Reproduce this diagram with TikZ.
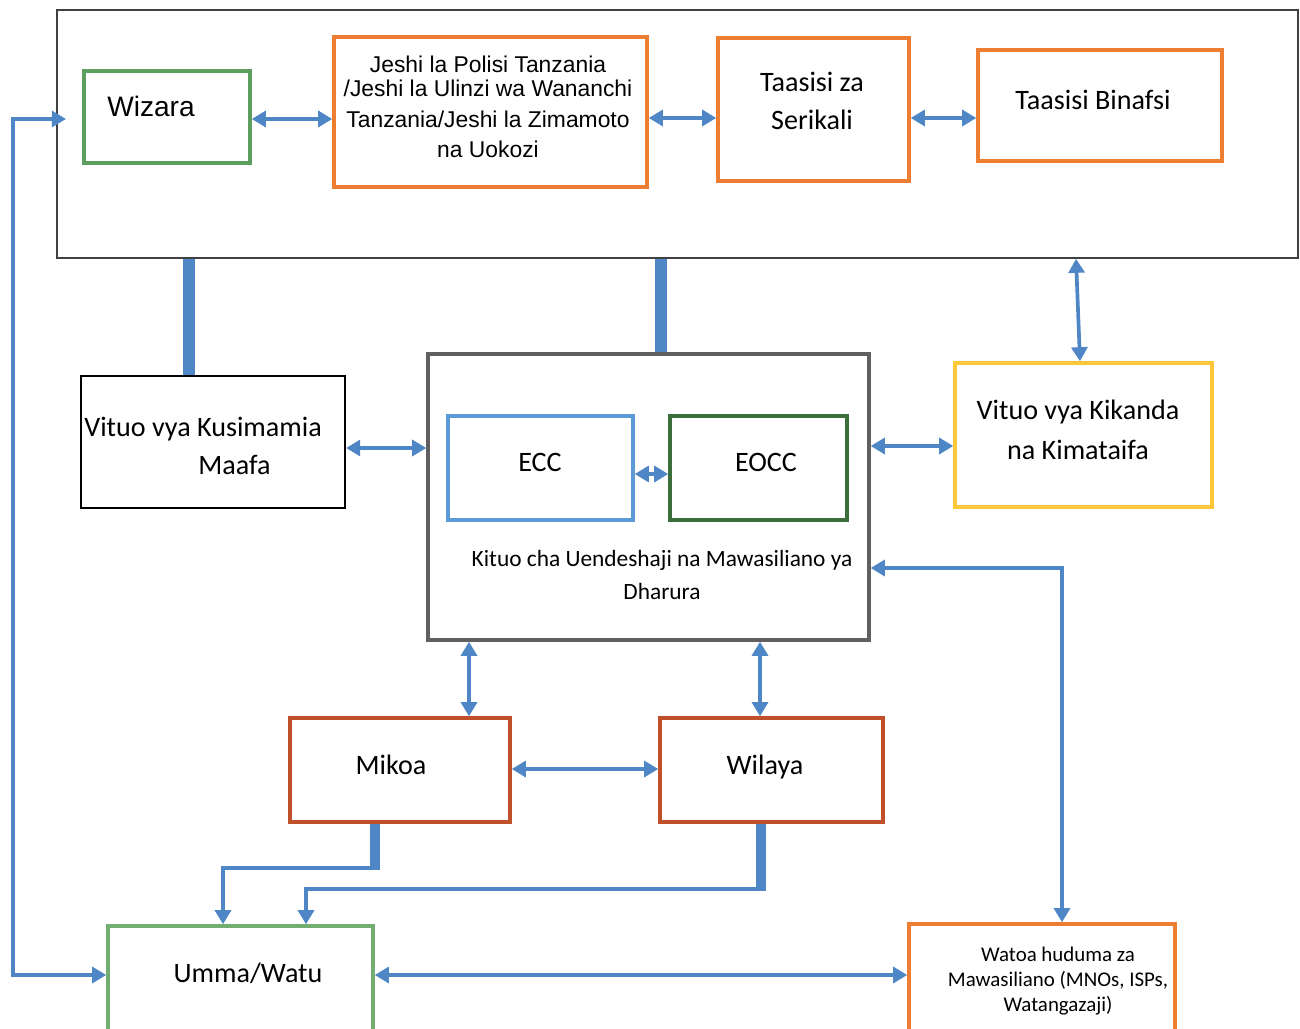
\documentclass[tikz,border=0pt]{standalone}
\usepackage{fontspec}
\setmainfont{Carlito}
\newfontfamily\arialfont{Liberation Sans}
\usepackage{xcolor}
\usetikzlibrary{calc,
	positioning,
	arrows.meta}
\definecolor{linkblue}{HTML}{4F86C6}
\definecolor{framegray}{HTML}{404040}
\definecolor{wizgreen}{HTML}{5E9E5E}
\definecolor{ummagreen}{HTML}{72AE72}
\definecolor{jorange}{HTML}{ED7D31}
\definecolor{eoccgreen}{HTML}{3B6E3B}
\definecolor{eccblue}{HTML}{5B9BD5}
\definecolor{kyellow}{HTML}{FFC63A}
\definecolor{mred}{HTML}{C0502A}
\definecolor{kgray}{HTML}{606060}

\begin{document}
\begin{tikzpicture}[x=0.02cm, y=-0.02cm,
	box/.style={draw, rectangle, line width=2pt, inner sep=0pt},
	link/.style={draw=linkblue, line width=2.1pt,
		{Triangle[length=8pt,width=9pt]}-{Triangle[length=8pt,width=9pt]}},
	onehead/.style={draw=linkblue, line width=2.1pt, -{Triangle[length=8pt,width=9pt]}},
	bar/.style={draw=linkblue, line width=6.5pt},
	lbl/.style={font=\fontsize{16}{22}\selectfont, align=center, inner sep=0pt}]
	\useasboundingbox (0,0) rectangle (1300,1028);
	\fill[white] (0,0) rectangle (1300,1028);
	% top group
	\node[box, draw=framegray, line width=0.9pt, minimum width=24.82cm, minimum height=4.96cm] (top) at (677.5,134) {};
	\node[box, draw=wizgreen, minimum width=3.32cm, minimum height=1.84cm] (wizara) at (167,117) {};
	\node[lbl, font=\arialfont\fontsize{16}{19}\selectfont] (wizaratxt) at (151,106) {Wizara};
	\node[box, draw=jorange, minimum width=6.26cm, minimum height=3.0cm] (jeshi) at (490.5,112) {};
	\node[lbl, font=\arialfont\fontsize{13}{17}\selectfont] (jeshitxt) at (488,107)
		{Jeshi la Polisi Tanzania\\[-3.5pt] /Jeshi la Ulinzi wa Wananchi\\[1pt] Tanzania/Jeshi la Zimamoto\\ na Uokozi};
	\node[box, draw=jorange, minimum width=3.82cm, minimum height=2.86cm] (serikali) at (813.5,109.5) {};
	\node[lbl] (serikalitxt) at (812,101) {Taasisi za\\ Serikali};
	\node[box, draw=jorange, minimum width=4.88cm, minimum height=2.22cm] (binafsi) at (1100,105.5) {};
	\node[lbl] (binafsitxt) at (1093,100) {Taasisi Binafsi};
	% middle row
	\node[box, draw=black, line width=1.3pt, minimum width=5.28cm, minimum height=2.64cm] (kusimamia) at (213,442) {};
	\node[lbl, align=left, anchor=west] (kusimamiatxt) at (84,446) {Vituo vya Kusimamia\\ \hspace*{2.28cm}Maafa};
	\node[box, draw=kgray, minimum width=8.82cm, minimum height=5.72cm] (kituo) at (648.5,497) {};
	\node[box, draw=eccblue, minimum width=3.7cm, minimum height=2.08cm] (ecc) at (540.5,468) {};
	\node[lbl] (ecctxt) at (540,462) {ECC};
	\node[box, draw=eoccgreen, minimum width=3.54cm, minimum height=2.08cm] (eocc) at (758.5,468) {};
	\node[lbl] (eocctxt) at (766,462) {EOCC};
	\node[lbl, font=\fontsize{13.3}{18.7}\selectfont] (kituotxt) at (662,575)
		{Kituo cha Uendeshaji na Mawasiliano ya\\ Dharura};
	\node[box, draw=kyellow, minimum width=5.14cm, minimum height=2.88cm] (kikanda) at (1083.5,435) {};
	\node[lbl, font=\fontsize{16}{22.7}\selectfont] (kikandatxt) at (1078,430) {Vituo vya Kikanda\\ na Kimataifa};
	% lower rows
	\node[box, draw=mred, minimum width=4.4cm, minimum height=2.08cm] (mikoa) at (400,770) {};
	\node[lbl] (mikoatxt) at (391,765) {Mikoa};
	\node[box, draw=mred, minimum width=4.46cm, minimum height=2.08cm] (wilaya) at (771.5,770) {};
	\node[lbl] (wilayatxt) at (765,767) {Wilaya};
	\node[box, draw=ummagreen, minimum width=5.3cm, minimum height=2.68cm] (umma) at (240.5,993) {};
	\node[lbl] (ummatxt) at (248,973) {Umma/Watu};
	\node[box, draw=jorange, minimum width=5.32cm, minimum height=2.72cm] (watoa) at (1042,992) {};
	\node[lbl, font=\fontsize{11.9}{14.2}\selectfont] (watoatxt) at (1058,981)
		{Watoa huduma za\\ Mawasiliano (MNOs, ISPs,\\ Watangazaji)};
	% connectors
	\draw[link] (wizara.east |- 0,119) -- (jeshi.west |- 0,119);
	\draw[link] (jeshi.east |- 0,118) -- (serikali.west |- 0,118);
	\draw[link] (serikali.east |- 0,118) -- (binafsi.west |- 0,118);
	\draw[link] (top.south -| 1076,0) -- (kikanda.north -| 1080,0);
	\draw[link] (kusimamia.east |- 0,448) -- (kituo.west |- 0,448);
	\draw[link] (ecc.east |- 0,474) -- (eocc.west |- 0,474);
	\draw[link] (kituo.east |- 0,568) -| (watoa.north -| 1062,0);
	\draw[link] (kituo.east |- 0,446) -- (kikanda.west |- 0,446);
	\draw[link] (kituo.south -| 469,0) -- (mikoa.north -| 469,0);
	\draw[link] (kituo.south -| 760,0) -- (wilaya.north -| 760,0);
	\draw[link] (mikoa.east |- 0,769) -- (wilaya.west |- 0,769);
	\draw[link] (umma.east |- 0,975) -- (watoa.west |- 0,975);
	\coordinate (wizin) at (66,119);
	\draw[link] (wizin) -- (13,119) -- (13,975) -- (umma.west |- 0,975);
	% thick bars
	\draw[bar] (top.south -| 189,0) -- (kusimamia.north -| 189,0);
	\draw[bar] (top.south -| 661,0) -- (kituo.north -| 661,0);
	\draw[bar, line width=5.5pt] (mikoa.south -| 375,0) -- (375,870);
	\draw[onehead] (378,868) -- (223,868) -- (umma.north -| 223,0);
	\draw[bar, line width=5.5pt] (wilaya.south -| 761,0) -- (761,891);
	\draw[onehead] (764,889) -- (306,889) -- (umma.north -| 306,0);
\end{tikzpicture}
\end{document}
